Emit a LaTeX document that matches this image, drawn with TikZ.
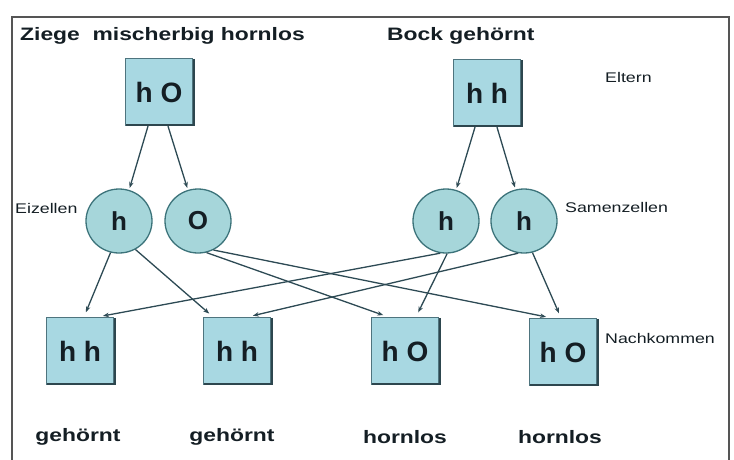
\documentclass[tikz,border=0pt]{standalone}
\usepackage{fontspec}
\setmainfont{Liberation Sans}[FakeStretch=1.27]
\newfontfamily\plainsans{Liberation Sans}
\usetikzlibrary{arrows.meta,shapes.geometric}
\definecolor{boxfill}{RGB}{168,216,226}
\definecolor{circfill}{RGB}{166,214,218}
\definecolor{boxdraw}{RGB}{78,116,126}
\definecolor{shadowc}{RGB}{45,70,78}
\definecolor{circdraw}{RGB}{60,115,122}
\definecolor{linec}{RGB}{45,74,84}
\definecolor{textc}{RGB}{20,30,36}
\definecolor{framec}{RGB}{85,85,85}
\tikzset{
  genbox/.style={draw=boxdraw,fill=boxfill,line width=1.3pt,minimum width=67pt,minimum height=67pt,inner sep=0pt,
     text=textc,font=\plainsans\bfseries\fontsize{28}{30}\selectfont},
  cell/.style={ellipse,draw=circdraw,fill=circfill,line width=1.3pt,minimum width=66pt,minimum height=64pt,inner sep=0pt,
     text=textc,font=\plainsans\bfseries\fontsize{26}{28}\selectfont},
  title/.style={anchor=west,inner sep=0pt,text=textc,font=\bfseries\fontsize{18}{20}\selectfont},
  pheno/.style={inner sep=0pt,text=textc,font=\bfseries\fontsize{18}{20}\selectfont},
  small/.style={anchor=west,inner sep=0pt,text=textc,font=\fontsize{14}{16}\selectfont},
  arr/.style={draw=linec,line width=1.3pt,-{Stealth[length=6pt,width=4.5pt]},shorten >=2pt},
  shade/.style={draw=shadowc,line width=1.5pt}
}
\begin{document}
\begin{tikzpicture}[x=1pt,y=-1pt]
\useasboundingbox (0,0) rectangle (734,459);
% frame
\draw[framec,line width=1.6pt] (12,470) -- (12,17) -- (729,17) -- (729,470);
% titles
\node[title] (t1) at (20,36) {Ziege~~mischerbig hornlos};
\node[title] (t2) at (387,36) {Bock gehörnt};
\node[small] (lel) at (605,77) {Eltern};
\node[small] (lei) at (15,208) {Eizellen};
\node[small] (lsa) at (565,207) {Samenzellen};
\node[small] (lna) at (605,338) {Nachkommen};
% parents
\node[genbox] (pL) at (159,92) {h O};
\node[genbox] (pR) at (487,93) {h h};
% gametes
\node[cell] (eh) at (119,221) {h};
\node[cell] (eO) at (198,221) {O};
\node[cell] (sh1) at (446,221) {h};
\node[cell] (sh2) at (524,221) {h};
% offspring
\node[genbox] (c1) at (80,351) {h h};
\node[genbox] (c2) at (237,351) {h h};
\node[genbox] (c3) at (405,351) {h O};
\node[genbox] (c4) at (563,352) {h O};
% box shadow edges
\foreach \b in {pL,pR,c1,c2,c3,c4}
  \draw[shade] ([xshift=1pt,yshift=-1pt]\b.north east) -- ([xshift=1pt,yshift=1pt]\b.south east) -- ([xshift=1pt,yshift=1pt]\b.south west);
% phenotypes
\node[pheno] (f1) at (78,437) {gehörnt};
\node[pheno] (f2) at (232,437) {gehörnt};
\node[pheno] (f3) at (405,437) {hornlos};
\node[pheno] (f4) at (560,437) {hornlos};
% arrows parents -> gametes
\draw[arr] ([xshift=-11pt]pL.south) -- (eh.72);
\draw[arr] ([xshift=9pt]pL.south) -- (eO.108);
\draw[arr] ([xshift=-12pt]pR.south) -- (sh1.72);
\draw[arr] ([xshift=10pt]pR.south) -- (sh2.105);
% arrows gametes -> offspring
\draw[arr,shorten >=5pt] (eh.-105) -- ([xshift=4pt]c1.north);
\draw[arr,shorten >=5pt] (eh.-60) -- ([xshift=-24pt]c2.north);
\draw[arr,shorten >=5pt] (eO.-75) -- ([xshift=-17pt]c3.north);
\draw[arr,shorten >=5pt] (eO.-62) -- ([xshift=-12pt]c4.north);
\draw[arr,shorten >=5pt] (sh1.-100) -- ([xshift=18pt]c1.north);
\draw[arr,shorten >=5pt] (sh1.-88) -- ([xshift=11pt]c3.north);
\draw[arr,shorten >=5pt] (sh2.-100) -- ([xshift=11pt]c2.north);
\draw[arr,shorten >=5pt] (sh2.-75) -- ([xshift=-2pt]c4.north);
\end{tikzpicture}
\end{document}
